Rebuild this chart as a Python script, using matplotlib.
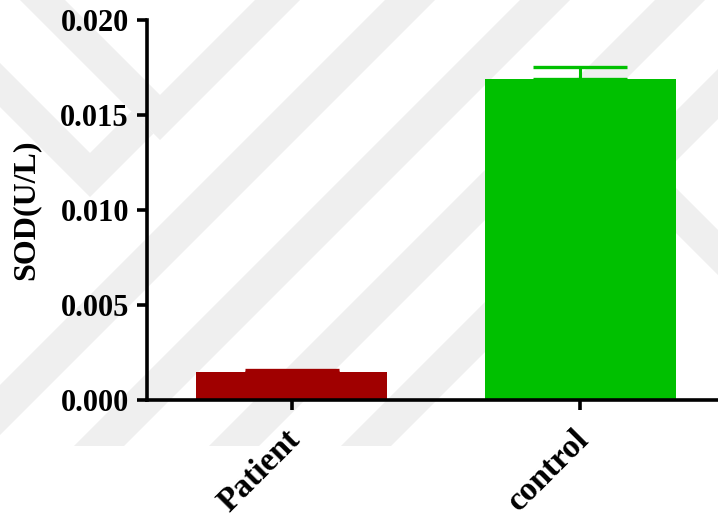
import numpy as np
import matplotlib
matplotlib.use("Agg")
import matplotlib.pyplot as plt
import matplotlib.transforms as mtransforms
from matplotlib.patches import Polygon

# SOD activity, mean and SEM per group
groups = ["Patient", "control"]
sod_mean = [0.0015, 0.0169]
sod_sem = [0.00008, 0.00064]
bar_colors = ["#a00000", "#00c000"]
y_ticks = [0.000, 0.005, 0.010, 0.015, 0.020]

W, H = 718, 517
plt.rcParams["font.family"] = ["Liberation Serif", "DejaVu Serif"]
plt.rcParams["font.weight"] = "bold"

fig = plt.figure(figsize=(W / 100, H / 100), dpi=100, facecolor="white")

# faint striped logo in the background (pixel coords, y pointing down)
stripes = [
    [(20, 0), (65, 0), (160, 95), (255, 0), (300, 0), (160, 140)],
    [(0, 63), (90, 153), (131.5, 111.5), (153.5, 133.5), (90, 197), (0, 107)],
]
for x0 in (385, 520, 655, 787):
    stripes.append([(x0, 0), (x0 + 50, 0), (x0 + 50 - 446, 446), (x0 - 446, 446)])
stripes.append([(588, 100), (788, 300), (743, 300), (543, 100)])
for pts in stripes:
    fig.patches.append(Polygon([(x / W, 1 - y / H) for x, y in pts], closed=True,
                               transform=fig.transFigure, facecolor="#efefef",
                               edgecolor="none", zorder=-5))

ax = fig.add_axes([147 / W, 1 - 400 / H, 1 - 147 / W, 380 / H])
ax.set_facecolor("none")

x = np.arange(len(groups))
ax.bar(x, sod_mean, width=0.663, color=bar_colors, zorder=2)
for xi, m, s, c in zip(x, sod_mean, sod_sem, bar_colors):
    ax.errorbar(xi, m, yerr=[[0], [s]], fmt="none", ecolor=c, elinewidth=2.2,
                capsize=34, capthick=2.4, zorder=3)

ax.set_xlim(-0.503, 1.479)
ax.set_ylim(0, 0.020)
ax.set_yticks(y_ticks)
ax.set_yticklabels([f"{v:.3f}" for v in y_ticks])
ax.set_xticks(x)
ax.set_xticklabels(groups, rotation=45, ha="right", va="center",
                   rotation_mode="anchor")

for side in ("top", "right"):
    ax.spines[side].set_visible(False)
for side in ("left", "bottom"):
    ax.spines[side].set_linewidth(2.6)
ax.tick_params(axis="both", width=2.6, length=7, color="black")
ax.tick_params(axis="y", labelsize=22, pad=6)
ax.tick_params(axis="x", labelsize=24, pad=18)

# nudge the slanted group names a little to the right
shift = mtransforms.ScaledTranslation(4 / 100, 0, fig.dpi_scale_trans)
for lab in ax.get_xticklabels():
    lab.set_transform(lab.get_transform() + shift)
for lab in ax.get_xticklabels() + ax.get_yticklabels():
    lab.set_fontweight("bold")

ax.set_ylabel("SOD(U/L)", fontsize=23, fontweight="bold", labelpad=14)

fig.savefig("out.png", dpi=100, facecolor="white")
